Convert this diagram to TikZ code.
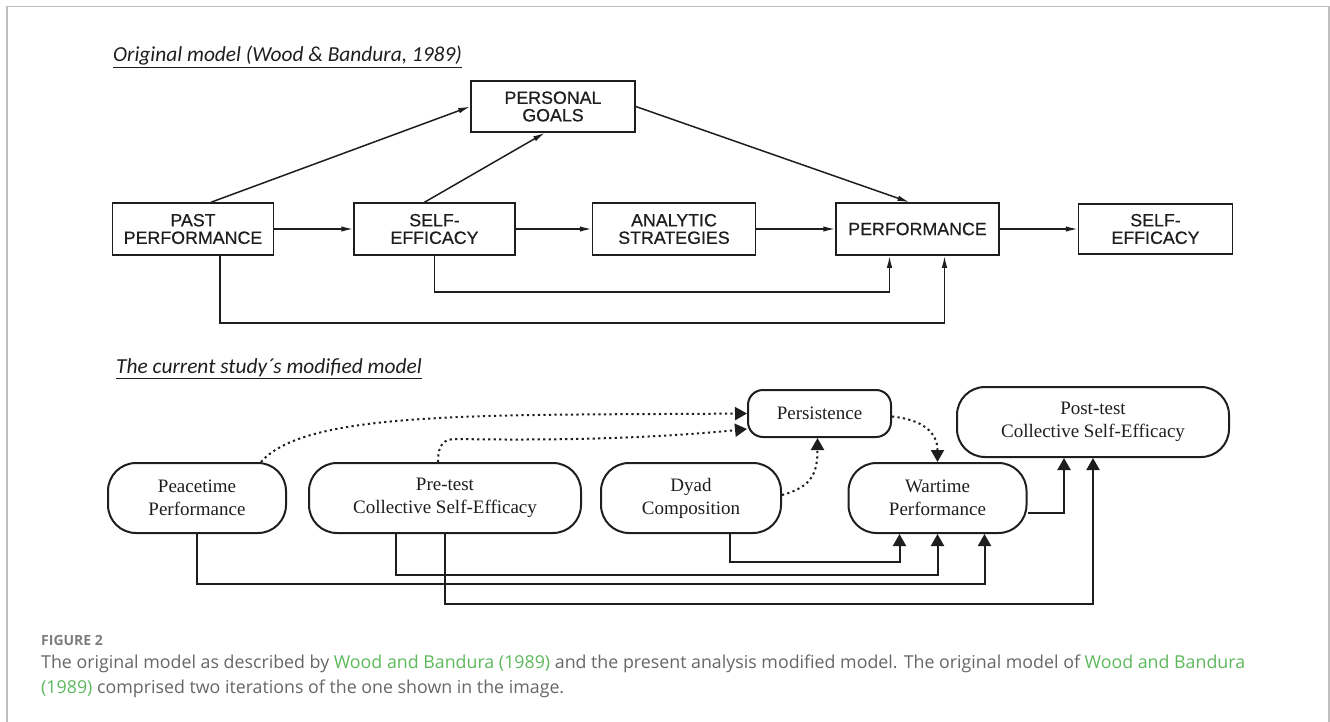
\documentclass[tikz,border=0pt]{standalone}
\usepackage{fontspec}
\usepackage{xcolor}
\usepackage{tikz}
\usetikzlibrary{positioning,arrows.meta}
\newfontfamily\capsfont[FakeBold=0.6]{Liberation Sans}
\newfontfamily\romfont{Liberation Serif}
\newfontfamily\headfont{Carlito}
\newfontfamily\notefont{Open Sans}
\definecolor{notegray}{HTML}{666666}
\definecolor{linkgreen}{HTML}{5DB85C}
\definecolor{inkblack}{HTML}{1E1E1E}
\tikzset{
  oldbox/.style={draw=inkblack, line width=1.5pt, minimum width=161pt,
    minimum height=52pt, inner sep=0pt, align=center, text=inkblack,
    font=\capsfont\fontsize{17.8}{17.5}\selectfont},
  oldarrow/.style={-{Latex[length=12pt,width=5.5pt]}, line width=1.5pt, draw=inkblack},
  newbox/.style={draw=inkblack, line width=2pt, rounded corners=28pt,
    minimum width=178pt, minimum height=70pt, inner sep=0pt, align=center,
    text=inkblack, font=\romfont\fontsize{19}{23}\selectfont},
  newarrow/.style={-{Triangle[length=12pt,width=13pt]}, line width=2pt, draw=inkblack},
  dotarrow/.style={newarrow, dash pattern=on 2.2pt off 3.3pt},
  headline/.style={anchor=base west, inner sep=0pt, text=inkblack,
    font=\headfont\itshape\fontsize{21.4}{24}\selectfont},
  noteline/.style={anchor=base west, inner sep=0pt, text=notegray,
    font=\notefont\fontsize{17.8}{20}\selectfont}
}
\begin{document}
\begin{tikzpicture}[x=1pt,y=-1pt]
\useasboundingbox (0,0) rectangle (1330,722);
\draw[black!25, line width=1.5pt] (7,722) -- (7,6.5) -- (1329,6.5) -- (1329,722);

% original model
\node (head-old) [headline] at (113,62) {\underline{Original model (Wood \& Bandura, 1989)}};

\node (past) [oldbox] at (193,229) {PAST\\PERFORMANCE};
\node (self) [oldbox, right=79pt of past] {SELF-\\EFFICACY};
\node (anal) [oldbox, minimum width=163pt, right=76pt of self] {ANALYTIC\\STRATEGIES};
\node (perf) [oldbox, minimum width=163pt, right=79pt of anal] {PERFORMANCE};
\node (self-out) [oldbox, minimum width=154pt, minimum height=50pt,
    right=78pt of perf] {SELF-\\EFFICACY};
\node (goals) [oldbox, minimum width=164pt, minimum height=51pt] at (553,106.5) {PERSONAL\\GOALS};

\draw[oldarrow] ([xshift=18pt]past.north) -- (goals.west);
\draw[oldarrow] ([xshift=-10pt]self.north) -- ([xshift=-8pt]goals.south);
\draw[oldarrow] (goals.east) -- ([xshift=-8pt]perf.north);
\draw[oldarrow] (past) -- (self);
\draw[oldarrow] (self) -- (anal);
\draw[oldarrow] (anal) -- (perf);
\draw[oldarrow] (perf) -- (self-out);
\draw[oldarrow] (self.south) -- ++(0,36) -| ([xshift=-28pt]perf.south);
\draw[oldarrow] ([xshift=27pt]past.south) -- ++(0,67) -| ([xshift=27pt]perf.south);

% modified model
\node (head-new) [headline] at (116,373) {\underline{The current study´s modified model}};

\node (peace) [newbox] at (197,498) {Peacetime\\Performance};
\node (pre) [newbox, minimum width=272pt, right=21pt of peace] {Pre-test\\Collective Self-Efficacy};
\node (dyad) [newbox, minimum width=180pt, right=18pt of pre] {Dyad\\Composition};
\node (war) [newbox, right=65.5pt of dyad] {Wartime\\Performance};
\node (persist) [newbox, minimum width=143pt, minimum height=47pt,
    rounded corners=15pt] at (819.5,413.5) {Persistence};
\node (post) [newbox, minimum width=272pt] at (1093,422) {Post-test\\Collective Self-Efficacy};
\coordinate (pre-bend) at (456,439);

\draw[newarrow] (peace.south) -- ++(0,50) -| ([xshift=47pt]war.south);
\draw[newarrow] ([xshift=-49.5pt]pre.south) -- ++(0,41) -| (war.south);
\draw[newarrow] (pre.south) -- ++(0,70) -| (post.south);
\draw[newarrow] ([xshift=39pt]dyad.south) -- ++(0,28) -| ([xshift=-38pt]war.south);
\draw[newarrow] ([yshift=-15pt]war.east) -| ([xshift=-29pt]post.south);

\draw[dotarrow] ([xshift=64pt]peace.north) .. controls +(45,-52) and +(-260,2) .. (persist.west);
\draw[dotarrow] ([xshift=-7pt]pre.north) .. controls +(0,-18) and +(-12,0) .. (pre-bend)
    .. controls +(120,2) and +(-80,8) .. ([yshift=-15.5pt]persist.west);
\draw[dotarrow] ([yshift=3pt]dyad.east) .. controls +(30,-8) and +(0,35) .. ([xshift=-2pt]persist.south);
\draw[dotarrow] ([yshift=-3pt]persist.east) .. controls +(30,3) and +(0,-30) .. (war.north);

% caption
\node (fig-label) [noteline, text=notegray!85, font=\notefont\bfseries\fontsize{14}{16}\selectfont]
    at (41,645) {FIGURE 2};
\node (cap-one) [noteline] at (41,668) {The original model as described by
    \textcolor{linkgreen}{Wood and Bandura (1989)} and the present analysis modified model.
    The original model of \textcolor{linkgreen}{Wood and Bandura}};
\node (cap-two) [noteline] at (41,693.5) {\textcolor{linkgreen}{(1989)} comprised two
    iterations of the one shown in the image.};
\end{tikzpicture}
\end{document}
